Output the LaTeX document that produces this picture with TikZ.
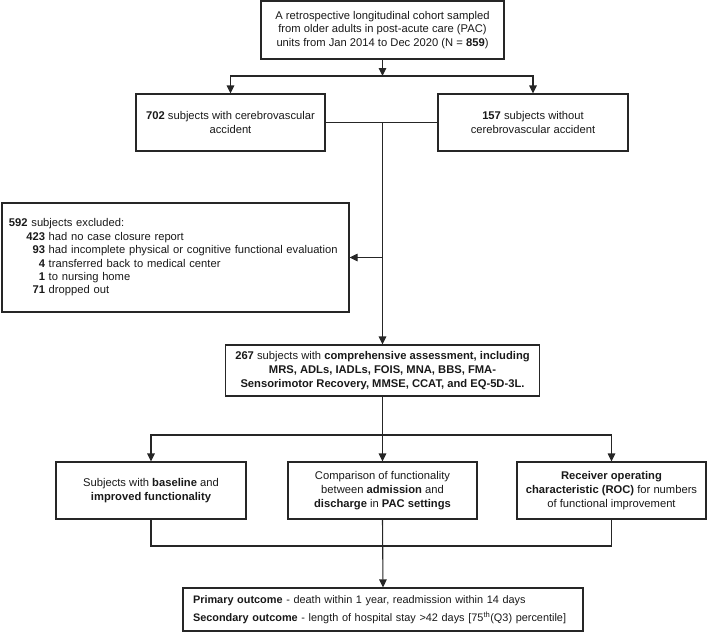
\documentclass[tikz,border=0pt]{standalone}
\usepackage{fontspec}
\setmainfont{Liberation Sans}
\usetikzlibrary{arrows.meta}
\begin{document}
\begin{tikzpicture}[x=1pt,y=-1pt,
  box/.style={draw=black!85, line width=1.1pt, align=center, inner sep=0pt,
    font=\fontsize{11.2}{14}\selectfont, text=black!90},
  arr/.style={-{Triangle[length=8pt,width=7.5pt]}, line width=1.1pt, draw=black!85},
  ln/.style={line width=1.1pt, draw=black!85}]
\useasboundingbox (0,0) rectangle (708,633);

\node[box, minimum width=243pt, minimum height=58pt, font=\fontsize{11.2}{13.5}\selectfont] (top) at (382.5,30)
  {A retrospective longitudinal cohort sampled\\from older adults in post-acute care (PAC)\\units from Jan 2014 to Dec 2020 (N = \textbf{859})};

\node[box, minimum width=189pt, minimum height=57pt] (cva) at (230.5,122.5)
  {\textbf{702} subjects with cerebrovascular\\accident};
\node[box, minimum width=190pt, minimum height=57pt] (nocva) at (533,122.5)
  {\textbf{157} subjects without\\cerebrovascular accident};

\node[box, align=left, text width=333pt, inner xsep=7pt, minimum height=109pt, font=\fontsize{11.2}{13.4}\selectfont] (excl) at (175.5,257.5)
  {\textbf{592} subjects excluded:\\
   \hspace*{17pt}\makebox[19pt][r]{\textbf{423}} had no case closure report\\
   \hspace*{17pt}\makebox[19pt][r]{\textbf{93}} had incomplete physical or cognitive functional evaluation\\
   \hspace*{17pt}\makebox[19pt][r]{\textbf{4}} transferred back to medical center\\
   \hspace*{17pt}\makebox[19pt][r]{\textbf{1}} to nursing home\\
   \hspace*{17pt}\makebox[19pt][r]{\textbf{71}} dropped out};

\node[box, minimum width=314pt, minimum height=51pt] (n267) at (382.5,370.5)
  {\textbf{267} subjects with \textbf{comprehensive assessment, including}\\
   \textbf{MRS, ADLs, IADLs, FOIS, MNA, BBS, FMA-}\\
   \textbf{Sensorimotor Recovery, MMSE, CCAT, and EQ-5D-3L.}};

\node[box, minimum width=190pt, minimum height=57pt] (base) at (151,490.5)
  {Subjects with \textbf{baseline} and\\\textbf{improved functionality}};
\node[box, minimum width=189pt, minimum height=57pt] (comp) at (382.5,490.5)
  {Comparison of functionality\\between \textbf{admission} and\\\textbf{discharge} in \textbf{PAC settings}};
\node[box, minimum width=189pt, minimum height=57pt] (roc) at (611.5,490.5)
  {\textbf{Receiver operating}\\\textbf{characteristic (ROC)} for numbers\\of functional improvement};

\node[box, align=left, text width=380pt, inner xsep=10pt, minimum height=43pt, font=\fontsize{10.9}{17.5}\selectfont] (out) at (383,609.5)
  {\mbox{\textbf{Primary outcome} - death within 1 year, readmission within 14 days}\\
   \mbox{\textbf{Secondary outcome} - length of hospital stay >42 days [75\textsuperscript{th}(Q3) percentile]}};

\coordinate (j1) at (382.5,76);
\coordinate (j2) at (382.5,122.5);
\coordinate (j3) at (382.5,257.5);
\coordinate (j4) at (382.5,435);
\coordinate (j5) at (382.5,546);

\draw[arr] (top.south) -- (j1);
\draw[arr] (j1) -| (cva.north);
\draw[arr] (j1) -| (nocva.north);
\draw[ln] (cva.east) -- (nocva.west);
\draw[arr] (j2) -- (n267.north);
\draw[arr] (j3) -- (excl.east);
\draw[arr] (n267.south) -- (comp.north);
\draw[arr] (j4) -| (base.north);
\draw[arr] (j4) -| (roc.north);
\draw[ln] (base.south) |- (j5) -| (roc.south);
\draw[arr] (comp.south) -- (out.north);
\end{tikzpicture}
\end{document}
